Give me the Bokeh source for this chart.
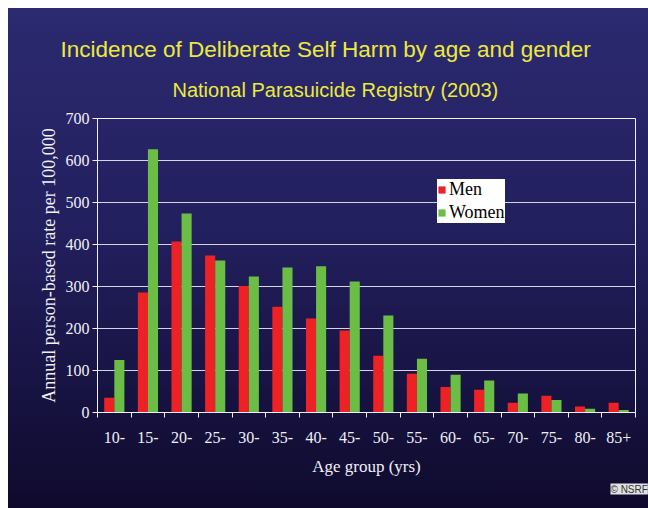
from bokeh.plotting import figure
from bokeh.models import (Range1d, FixedTicker, Legend, LegendItem, Title,
                          InlineStyleSheet, CustomJSTickFormatter)
from bokeh.transform import dodge
from bokeh.embed import file_html
from bokeh.resources import INLINE

age_groups = ["10-", "15-", "20-", "25-", "30-", "35-", "40-", "45-",
              "50-", "55-", "60-", "65-", "70-", "75-", "80-", "85+"]
men = [35, 286, 407, 374, 301, 252, 224, 195, 135, 92, 61, 54, 23, 40, 14, 23]
women = [125, 627, 474, 362, 324, 345, 348, 312, 231, 128, 90, 76, 45, 30, 9, 6]
y_ticks = [0, 100, 200, 300, 400, 500, 600, 700]
series_names = ["Men", "Women"]
title_text = "Incidence of Deliberate Self Harm by age and gender"
subtitle_text = "National Parasuicide Registry (2003)"
x_label = "Age group (yrs)"
y_label = "Annual person-based rate per 100,000"
credit = "\u00a9 NSRF"

SERIF = "Liberation Serif"
TFONT = "Liberation Sans"
WHITE = "#f0f0f6"
RED = "#ee2224"
GREEN = "#6cbd45"
YELLOW = "#ecea3c"

n = len(age_groups)
centers = [i + 0.5 for i in range(n)]      # slot centre of each category
edges = list(range(n + 1))                  # slot boundaries (tick marks)

p = figure(width=640, height=500,
           x_range=Range1d(0, n), y_range=Range1d(0, 700),
           output_backend="svg", toolbar_location=None,
           min_border_left=89, min_border_right=13,
           min_border_top=110, min_border_bottom=96)
p.margin = (8, 0, 0, 8)

p.stylesheets = [InlineStyleSheet(css=":host { background: linear-gradient(to bottom, #2c2a70 0%, #221f5e 45%, #0f0a2c 100%); }")]
p.border_fill_alpha = 0
p.background_fill_alpha = 0
p.outline_line_color = WHITE
p.outline_line_width = 1

data = dict(pos=centers, age=age_groups, men=men, women=women)
r_men = p.vbar(x=dodge("pos", -0.15), top="men", width=0.3,
               source=data, fill_color=RED, line_color=None)
r_women = p.vbar(x=dodge("pos", 0.15), top="women", width=0.3,
                 source=data, fill_color=GREEN, line_color=None)

# y axis
ya = p.yaxis[0]
ya.ticker = FixedTicker(ticks=y_ticks)
ya.axis_line_color = WHITE
ya.major_tick_line_color = WHITE
ya.major_tick_out = 5
ya.major_tick_in = 0
ya.minor_tick_line_color = None
ya.major_label_text_color = WHITE
ya.major_label_text_font = SERIF
ya.major_label_text_font_size = "16px"
ya.major_label_standoff = 3
ya.axis_label = y_label
ya.axis_label_text_color = WHITE
ya.axis_label_text_font = SERIF
ya.axis_label_text_font_size = "18px"
ya.axis_label_text_font_style = "normal"
ya.axis_label_standoff = 4

# x axis: labels at slot centres, tick marks at slot boundaries
xa = p.xaxis[0]
xa.ticker = FixedTicker(ticks=centers, minor_ticks=edges)
xa.formatter = CustomJSTickFormatter(args=dict(labels=age_groups),
                                     code="return labels[Math.floor(tick)];")
xa.axis_line_color = WHITE
xa.major_tick_line_color = None
xa.minor_tick_line_color = WHITE
xa.minor_tick_out = 5
xa.minor_tick_in = 0
xa.major_label_text_color = WHITE
xa.major_label_text_font = SERIF
xa.major_label_text_font_size = "16px"
xa.major_label_standoff = 13
xa.axis_label = x_label
xa.axis_label_text_color = WHITE
xa.axis_label_text_font = SERIF
xa.axis_label_text_font_size = "17px"
xa.axis_label_text_font_style = "normal"
xa.axis_label_standoff = 11

p.xgrid.grid_line_color = None
p.ygrid.ticker = FixedTicker(ticks=y_ticks)
p.ygrid.grid_line_color = "#d4d4ea"
p.ygrid.grid_line_width = 1

legend = Legend(items=[LegendItem(label=series_names[0], renderers=[r_men]),
                       LegendItem(label=series_names[1], renderers=[r_women])],
                location=(340, 189),
                background_fill_color="white", background_fill_alpha=1,
                border_line_color=None,
                label_text_font=SERIF, label_text_font_size="18px",
                label_text_color="black",
                glyph_width=9, glyph_height=9, label_standoff=3,
                padding=6, spacing=2, margin=0, label_height=20)
p.add_layout(legend)

# titles (subtitle added first so it sits nearest the frame)
p.add_layout(Title(text=subtitle_text, align="left", offset=75, standoff=32,
                   vertical_align="top",
                   text_font=TFONT, text_font_size="20px", text_font_style="normal",
                   text_color=YELLOW), "above")
p.add_layout(Title(text=title_text, align="left", offset=-37, standoff=2,
                   text_font=TFONT, text_font_size="22.5px", text_font_style="normal",
                   text_color=YELLOW), "above")

p.add_layout(Title(text=credit, align="left", offset=513, standoff=6,
                   text_font="Liberation Sans", text_font_size="10px",
                   text_font_style="normal", text_color="#333333",
                   background_fill_color="#e2e2e2"), "below")

open("out.html", "w").write(file_html(p, INLINE))
